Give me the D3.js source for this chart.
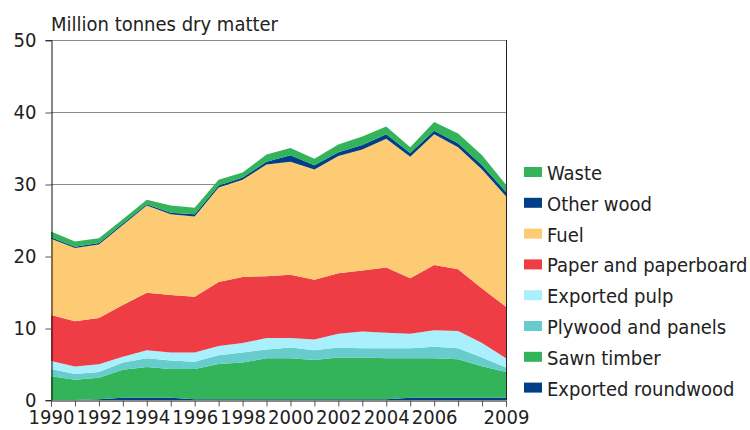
<!DOCTYPE html>
<html>
<head>
<meta charset="utf-8">
<script src="https://cdn.jsdelivr.net/npm/d3@7"></script>
<style>
  body { margin: 0; background: #fff; }
  text { font-family: "DejaVu Sans Condensed", "DejaVu Sans", sans-serif; font-stretch: condensed; fill: #222; }
</style>
</head>
<body>
<script>
// years on the x axis
const years = d3.range(1990, 2010);
const xLabels = [1990, 1992, 1994, 1996, 1998, 2000, 2002, 2004, 2006, 2009];
const yTicks = [0, 10, 20, 30, 40, 50];

// series, stacked from the bottom up (million tonnes dry matter)
const exportedRoundwood = [0, 0, 0.1, 0.3, 0.3, 0.3, 0.1, 0.1, 0.1, 0.1, 0.1, 0.1, 0.1, 0.1, 0.1, 0.3, 0.3, 0.3, 0.3, 0.3];
const sawnTimber = [3.3, 2.8, 3.0, 3.9, 4.3, 4.0, 4.2, 4.9, 5.1, 5.7, 5.7, 5.45, 5.8, 5.8, 5.7, 5.5, 5.5, 5.35, 4.4, 3.6];
const plywood = [1.0, 0.8, 0.8, 1.0, 1.2, 1.2, 1.0, 1.2, 1.4, 1.2, 1.5, 1.35, 1.4, 1.3, 1.4, 1.4, 1.6, 1.55, 1.2, 0.6];
const exportedPulp = [1.1, 1.05, 1.05, 0.8, 1.1, 1.1, 1.3, 1.3, 1.3, 1.6, 1.3, 1.5, 1.9, 2.3, 2.15, 2.0, 2.3, 2.4, 2.0, 1.3];
const paper = [6.4, 6.3, 6.45, 7.2, 8.0, 8.0, 7.75, 8.9, 9.2, 8.6, 8.8, 8.3, 8.4, 8.5, 9.05, 7.7, 9.05, 8.55, 7.6, 7.15];
const fuel = [10.6, 10.15, 10.2, 11.1, 12.1, 11.2, 11.15, 13.1, 13.5, 15.5, 15.7, 15.3, 16.3, 16.8, 17.9, 16.9, 18.15, 16.95, 16.5, 15.35];
const otherWood = [0.2, 0.2, 0.2, 0.2, 0.2, 0.2, 0.3, 0.3, 0.3, 0.4, 0.9, 0.6, 0.5, 0.6, 0.6, 0.5, 0.5, 0.55, 0.6, 0.6];
const waste = [0.8, 0.7, 0.65, 0.6, 0.6, 1.0, 0.9, 0.8, 0.7, 1.0, 1.0, 0.9, 1.1, 1.2, 1.1, 0.8, 1.2, 1.35, 1.4, 1.0];

const seriesNames = ['Exported roundwood', 'Sawn timber', 'Plywood and panels', 'Exported pulp',
  'Paper and paperboard', 'Fuel', 'Other wood', 'Waste'];
const seriesValues = [exportedRoundwood, sawnTimber, plywood, exportedPulp, paper, fuel, otherWood, waste];
const colors = ['#003f87', '#33b35a', '#66cccc', '#aaf0fc', '#ef3d45', '#fccb74', '#003f87', '#33b35a'];

const width = 750;
const height = 430;
const margin = { top: 40, right: 244, bottom: 30, left: 51 };

const svg = d3.select('body').append('svg')
  .attr('width', width)
  .attr('height', height);

const xScale = d3.scaleLinear()
  .domain([1990, 2009])
  .range([margin.left, width - margin.right]);
const yScale = d3.scaleLinear()
  .domain([0, 50])
  .range([height - margin.bottom, margin.top]);

// table for the stack
const table = years.map((yr, i) => {
  const row = { year: yr };
  seriesNames.forEach((n, k) => { row[n] = seriesValues[k][i]; });
  return row;
});
const stacked = d3.stack().keys(seriesNames)(table);

// grid lines
svg.append('g')
  .selectAll('line')
  .data(yTicks.slice(1))
  .join('line')
  .attr('x1', xScale(1990))
  .attr('x2', xScale(2009))
  .attr('y1', d => yScale(d) + 0.5)
  .attr('y2', d => yScale(d) + 0.5)
  .attr('stroke', '#8c8c8c')
  .attr('stroke-width', 1);

// areas
const area = d3.area()
  .x(d => xScale(d.data.year))
  .y0(d => yScale(d[0]))
  .y1(d => yScale(d[1]));
svg.append('g')
  .selectAll('path')
  .data(stacked)
  .join('path')
  .attr('fill', (d, i) => colors[i])
  .attr('d', area);

// right border
svg.append('line')
  .attr('x1', xScale(2009) + 0.5).attr('x2', xScale(2009) + 0.5)
  .attr('y1', yScale(50)).attr('y2', yScale(0))
  .attr('stroke', '#222');

// y axis
const yAxis = svg.append('g')
  .attr('transform', `translate(${margin.left + 0.5},0)`)
  .call(d3.axisLeft(yScale).tickValues(yTicks).tickSize(6).tickPadding(9));
yAxis.select('.domain').attr('stroke', '#111');
yAxis.selectAll('.tick line').attr('stroke', '#555').attr('transform', 'translate(0,0.5)');
yAxis.selectAll('text').style('font-size', '20px').attr('fill', '#222');

// x axis
const xAxis = svg.append('g')
  .attr('transform', `translate(0,${height - margin.bottom + 0.5})`)
  .call(d3.axisBottom(xScale).tickValues(years).tickSize(6).tickPadding(3)
    .tickFormat(d => xLabels.includes(d) ? String(d) : ''));
xAxis.select('.domain').attr('stroke', '#111');
xAxis.selectAll('.tick line').attr('stroke', '#555');
xAxis.selectAll('text').style('font-size', '20px').attr('fill', '#222');

// title
svg.append('text')
  .attr('x', 51)
  .attr('y', 31)
  .style('font-size', '20px')
  .text('Million tonnes dry matter');

// legend, top entry first
const legendItems = seriesNames.map((n, i) => ({ name: n, color: colors[i] })).reverse();
const legend = svg.append('g')
  .selectAll('g')
  .data(legendItems)
  .join('g')
  .attr('transform', (d, i) => `translate(524,${167 + i * 30.8})`);
legend.append('rect')
  .attr('width', 18)
  .attr('height', 10)
  .attr('fill', d => d.color);
legend.append('text')
  .attr('x', 23)
  .attr('y', 13)
  .style('font-size', '20px')
  .text(d => d.name);
</script>
</body>
</html>
